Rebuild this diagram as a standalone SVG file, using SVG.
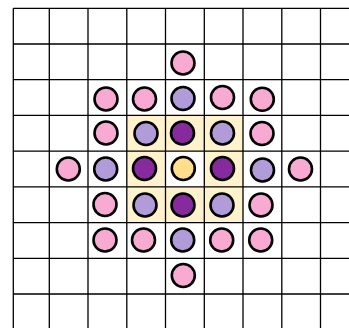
<svg xmlns="http://www.w3.org/2000/svg" width="349" height="328" viewBox="0 0 349 328">
<style>
.hl{fill:#fff2cc;stroke:none}
.g{stroke:#000;stroke-width:1.3;fill:none}
.n{stroke:#000;stroke-width:2.6}
.p{fill:#f9aad3}
.l{fill:#b19cd9}
.d{fill:#872a9d}
.y{fill:#ffdf8e}
</style>
<rect width="349" height="328" fill="#fff"/>
<g id="highlight">
<rect class="hl" x="126.75" y="115.4" width="116.25" height="35.7"/>
<rect class="hl" x="126.75" y="151.1" width="38.75" height="35.8"/>
<rect class="hl" x="204.25" y="151.1" width="38.75" height="35.8"/>
<rect class="hl" x="126.75" y="186.9" width="116.25" height="35.7"/>
</g>
<g id="grid" class="g">
<path d="M13.3 8.3V328M49.3 8.3V328M88 8.3V328M126.8 8.3V328M165.5 8.3V328M204.3 8.3V328M243 8.3V328M281.8 8.3V328M320.5 8.3V328"/>
<path d="M13.3 8.3H349M13.3 44H349M13.3 79.7H349M13.3 115.4H349M13.3 151.1H349M13.3 186.9H349M13.3 222.6H349M13.3 258.3H349M13.3 294H349"/>
</g>
<g id="nodes">
<circle id="r2e" class="n p" cx="183" cy="63" r="11.5"/>
<circle id="r3c" class="n p" cx="106" cy="99" r="11.5"/>
<circle id="r3d" class="n p" cx="144.5" cy="99" r="11.5"/>
<circle id="r3e" class="n l" cx="183" cy="98.5" r="11.5"/>
<circle id="r3f" class="n p" cx="222.5" cy="97.5" r="11.5"/>
<circle id="r3g" class="n p" cx="262.3" cy="99.3" r="11.5"/>
<circle id="r4c" class="n p" cx="106" cy="133" r="11.5"/>
<circle id="r4d" class="n l" cx="146" cy="133.5" r="11.5"/>
<circle id="r4e" class="n d" cx="182.5" cy="133" r="11.5"/>
<circle id="r4f" class="n l" cx="222.5" cy="133" r="11.5"/>
<circle id="r4g" class="n p" cx="262" cy="133.5" r="11.5"/>
<circle id="r5b" class="n p" cx="68.3" cy="169" r="11.5"/>
<circle id="r5c" class="n l" cx="105.7" cy="169" r="11.5"/>
<circle id="r5d" class="n d" cx="144.5" cy="168.5" r="11.5"/>
<circle id="r5e" class="n y" cx="183.3" cy="168.5" r="11.5"/>
<circle id="r5f" class="n d" cx="222.5" cy="168.5" r="11.5"/>
<circle id="r5g" class="n l" cx="262.5" cy="170" r="11.5"/>
<circle id="r5h" class="n p" cx="300.5" cy="169" r="11.5"/>
<circle id="r6c" class="n p" cx="105" cy="204.5" r="11.5"/>
<circle id="r6d" class="n l" cx="145" cy="205" r="11.5"/>
<circle id="r6e" class="n d" cx="183" cy="205" r="11.5"/>
<circle id="r6f" class="n l" cx="222" cy="205" r="11.5"/>
<circle id="r6g" class="n p" cx="261" cy="205" r="11.5"/>
<circle id="r7c" class="n p" cx="105" cy="240" r="11.5"/>
<circle id="r7d" class="n p" cx="143.5" cy="240" r="11.5"/>
<circle id="r7e" class="n l" cx="182.7" cy="240" r="11.5"/>
<circle id="r7f" class="n p" cx="221.7" cy="240" r="11.5"/>
<circle id="r7g" class="n p" cx="260.7" cy="240" r="11.5"/>
<circle id="r8e" class="n p" cx="183.3" cy="275.5" r="11.5"/>
</g>
</svg>
